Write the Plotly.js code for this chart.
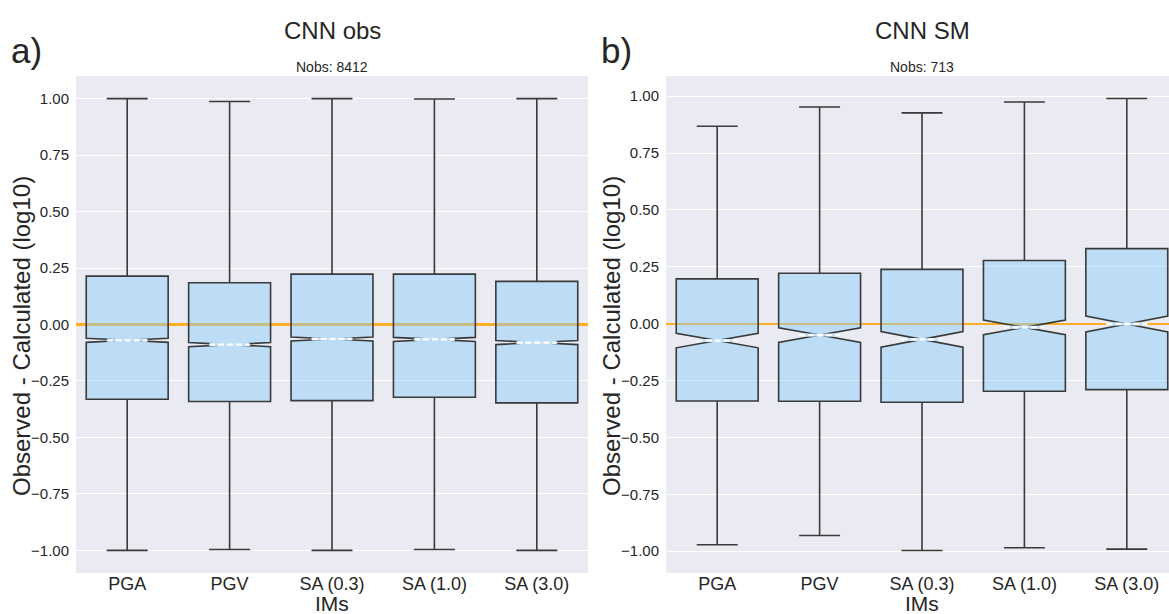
<!DOCTYPE html>
<html>
<head>
<meta charset="utf-8">
<script src="https://cdn.plot.ly/plotly-3.0.1.min.js"></script>
<style>html,body{margin:0;padding:0;background:#fff;}#chart{width:1169px;height:614px;}</style>
</head>
<body>
<div id="chart"></div>
<script>
// ---- data ----
const categories = ['PGA', 'PGV', 'SA (0.3)', 'SA (1.0)', 'SA (3.0)'];

// panel a) CNN obs, Nobs 8412
const obsQ1     = [-0.331, -0.341, -0.337, -0.322, -0.347];
const obsMedian = [-0.070, -0.089, -0.064, -0.066, -0.080];
const obsQ3     = [ 0.214,  0.185,  0.223,  0.223,  0.191];
const obsLower  = [-1.000, -0.996, -1.000, -0.996, -1.000];
const obsUpper  = [ 1.000,  0.987,  1.000,  0.998,  1.000];
const obsNotch  = [ 0.009,  0.009,  0.009,  0.009,  0.009];

// panel b) CNN SM, Nobs 713
const smQ1     = [-0.340, -0.341, -0.345, -0.297, -0.290];
const smMedian = [-0.074, -0.050, -0.069, -0.016, -0.001];
const smQ3     = [ 0.197,  0.222,  0.239,  0.278,  0.330];
const smLower  = [-0.972, -0.931, -0.997, -0.985, -0.991];
const smUpper  = [ 0.868,  0.953,  0.927,  0.975,  0.990];
const smNotch  = [ 0.032,  0.032,  0.034,  0.032,  0.035];

const yTicks = [-1.00, -0.75, -0.50, -0.25, 0.00, 0.25, 0.50, 0.75, 1.00];

// ---- styling ----
const W = 1169, H = 614;
const BOX_W = 0.8;
const fill = 'rgba(135,206,250,0.45)';
const fillSeen = 'rgb(190,222,245)';
const edge = '#3a3a3a';
const txt = '#262626';
const font = 'Liberation Sans, Arial, sans-serif';
const pos = categories.map((c, i) => i);

function boxTrace(q1, med, q3, lo, hi, notch, xa, ya) {
  return {
    type: 'box', xaxis: xa, yaxis: ya,
    x: pos, q1: q1, median: med, q3: q3,
    lowerfence: lo, upperfence: hi, notchspan: notch,
    notched: true, notchwidth: 0.5, width: BOX_W, whiskerwidth: 0.5,
    boxpoints: false, fillcolor: fill,
    line: {color: edge, width: 1.6},
    hoverinfo: 'skip', showlegend: false
  };
}
function medianTraces(med, xa, ya) {
  const xs = [], ys = [], xc = [], yc = [];
  med.forEach((m, i) => {
    xs.push(pos[i] - BOX_W / 4, pos[i] + BOX_W / 4, null);
    ys.push(m, m, null);
    xc.push(pos[i] - BOX_W / 4 * 0.95, pos[i] + BOX_W / 4 * 0.95, null);
    yc.push(m, m, null);
  });
  return [
    {type: 'scatter', mode: 'lines', xaxis: xa, yaxis: ya, x: xc, y: yc,
     line: {color: fillSeen, width: 3}, hoverinfo: 'skip', showlegend: false},
    {type: 'scatter', mode: 'lines', xaxis: xa, yaxis: ya, x: xs, y: ys,
     line: {color: '#ffffff', width: 2.2, dash: '6px,3px'}, hoverinfo: 'skip', showlegend: false}
  ];
}

const data = [
  boxTrace(obsQ1, obsMedian, obsQ3, obsLower, obsUpper, obsNotch, 'x', 'y'),
  ...medianTraces(obsMedian, 'x', 'y'),
  boxTrace(smQ1, smMedian, smQ3, smLower, smUpper, smNotch, 'x2', 'y2'),
  ...medianTraces(smMedian, 'x2', 'y2')
];

// plot areas in pixels
const L1 = 76, R1 = 588, L2 = 666, R2 = 1169, T = 76, B = 573;
const unitPx = (R1 - L1) / 5;
const px = v => v / W, py = v => 1 - v / H;
const xRange1 = [-0.5, 4.5];
const xRange2 = [-0.5, -0.5 + (R2 - L2) / unitPx];

function xAxis(domain, range) {
  return {
    domain: domain, range: range, tickvals: pos, ticktext: categories,
    showgrid: false, zeroline: false, showline: false, ticks: '',
    ticklabelstandoff: -2,
    tickfont: {family: font, size: 18, color: txt}
  };
}
function yAxis(domain, range, anchor) {
  return {
    domain: domain, range: range, anchor: anchor,
    tickvals: yTicks, tickformat: '.2f',
    showgrid: true, gridcolor: '#ffffff', gridwidth: 1,
    zeroline: true, zerolinecolor: 'rgba(255,165,0,0.85)', zerolinewidth: 2.4,
    showline: false,
    ticks: 'outside', ticklen: 3, tickcolor: 'rgba(0,0,0,0)',
    tickfont: {family: font, size: 15, color: txt}
  };
}

const yDom = [py(B), py(T)];
function ann(text, x, y, size, opts) {
  return Object.assign({text: text, x: px(x), y: py(y), xref: 'paper', yref: 'paper',
    showarrow: false, xanchor: 'center', yanchor: 'middle',
    font: {family: font, size: size, color: txt}}, opts || {});
}
const C1 = (L1 + R1) / 2, C2 = L2 + (R1 - L1) / 2;

const layout = {
  width: W, height: H,
  margin: {l: 0, r: 0, t: 0, b: 0},
  paper_bgcolor: '#ffffff', plot_bgcolor: '#eaeaf2',
  showlegend: false,
  xaxis: xAxis([px(L1), px(R1)], xRange1),
  yaxis: yAxis(yDom, [-1.1, 1.1], 'x'),
  xaxis2: Object.assign(xAxis([px(L2), 1], xRange2), {anchor: 'y2'}),
  yaxis2: yAxis(yDom, [-1.096, 1.089], 'x2'),
  annotations: [
    ann('CNN obs', C1, 30, 24),
    ann('a)', 9, 50, 35, {xanchor: 'left'}),
    ann('Nobs: 8412', C1, 67, 14),
    ann('CNN SM', C2, 30, 24),
    ann('b)', 599, 50, 35, {xanchor: 'left'}),
    ann('Nobs: 713', C2, 67, 14),
    ann('Observed - Calculated (log10)', 21, 336, 24, {textangle: -90}),
    ann('Observed - Calculated (log10)', 611, 336, 24, {textangle: -90}),
    ann('IMs', C1, 603, 21),
    ann('IMs', C2, 603, 21)
  ]
};

Plotly.newPlot('chart', data, layout, {displayModeBar: false, staticPlot: true});
</script>
</body>
</html>
